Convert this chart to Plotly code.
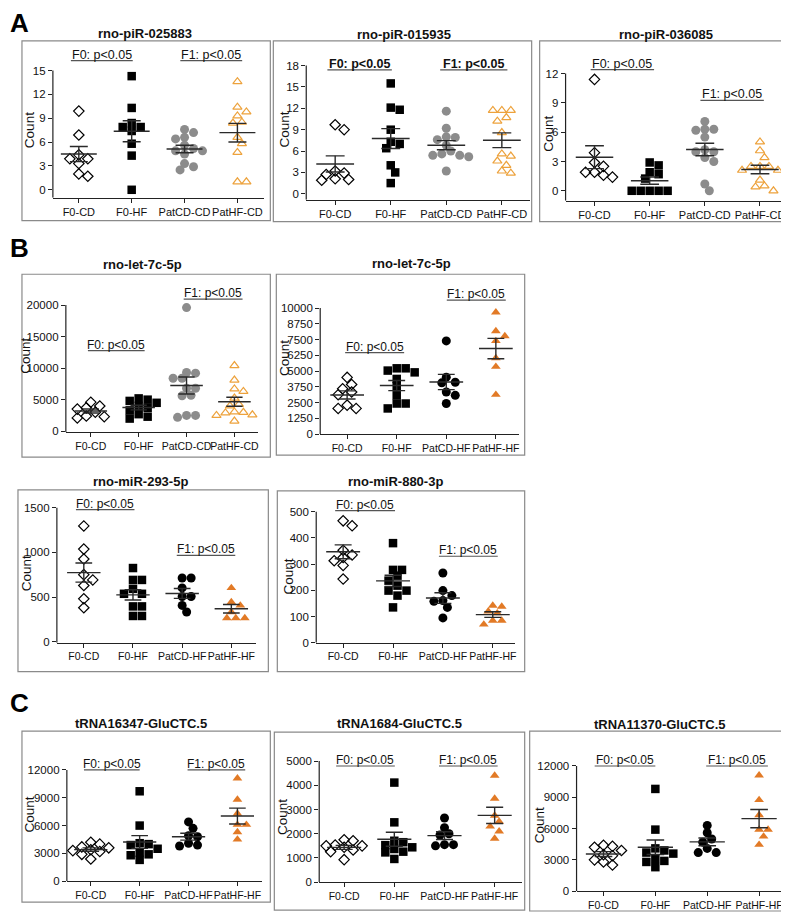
import numpy as np
import plotly.graph_objects as go

W, H = 789, 912

# ---------------- data ----------------
LABELS_CD = ["F0-CD", "F0-HF", "PatCD-CD", "PatHF-CD"]
LABELS_HF = ["F0-CD", "F0-HF", "PatCD-HF", "PatHF-HF"]

TITLES = ["rno-piR-025883", "rno-piR-015935", "rno-piR-036085",
          "rno-let-7c-5p", "rno-let-7c-5p", "rno-miR-293-5p", "rno-miR-880-3p",
          "tRNA16347-GluCTC.5", "tRNA1684-GluCTC.5", "tRNA11370-GluCTC.5"]

# A: rno-piR-025883
a1_f0cd = [9.9, 6.9, 4.4, 3.9, 3.9, 3.3, 1.7, 2.0]
a1_f0hf = [14.3, 10.3, 8.4, 7.9, 7.9, 7.4, 5.8, 4.3, 0.0]
a1_patcd = [7.6, 7.2, 6.6, 6.4, 5.6, 5.2, 4.9, 4.9, 4.5, 3.3, 2.9, 2.5]
a1_pathf = [13.6, 10.4, 9.8, 9.3, 8.5, 8.4, 6.6, 5.8, 4.7, 1.0, 1.0]
# A: rno-piR-015935
a2_f0cd = [9.7, 9.0, 3.2, 2.9, 2.7, 2.1, 1.9, 2.0]
a2_f0hf = [15.5, 12.1, 11.8, 9.0, 7.3, 7.0, 6.4, 4.0, 3.0, 1.5]
a2_patcd = [11.6, 9.2, 8.0, 7.9, 7.6, 6.8, 6.0, 5.6, 5.4, 5.4, 5.2, 3.2]
a2_pathf = [11.7, 11.7, 11.7, 10.7, 10.2, 8.6, 5.6, 5.3, 4.6, 4.0, 3.2, 2.9]
# A: rno-piR-036085
a3_f0cd = [11.4, 3.9, 2.9, 2.5, 1.9, 1.9, 1.6, 1.4]
a3_f0hf = [2.9, 2.6, 1.9, 1.7, 1.25, 0.0, 0.0, 0.0, 0.0, 0.0]
a3_patcd = [7.1, 6.3, 6.3, 6.2, 5.5, 4.2, 4.0, 4.0, 3.4, 3.0, 0.7, 0.0]
a3_pathf = [5.0, 4.1, 3.4, 2.5, 2.5, 2.5, 2.1, 2.1, 1.1, 0.5, 0.4, 0.0]
# B: rno-let-7c-5p (CD offspring)
b1_f0cd = [4600, 4000, 3700, 3500, 3000, 2400, 2100, 2300]
b1_f0hf = [5200, 5000, 4800, 4500, 4000, 3700, 3300, 2700, 2300, 2000]
b1_patcd = [19600, 9200, 9300, 8400, 8400, 6800, 6800, 5700, 5600, 2500, 2500, 2200]
b1_pathf = [10400, 8100, 6700, 6300, 5250, 4250, 4000, 3050, 3000, 2900, 2600, 2500, 1600]
# B: rno-let-7c-5p (HF offspring)
b2_f0cd = [4500, 3940, 3600, 3340, 3130, 2300, 2040, 2040]
b2_f0hf = [5220, 5220, 5040, 4900, 4380, 3810, 3080, 2430, 2430, 2040]
b2_patcd = [7390, 4520, 4120, 4070, 3340, 3080, 2430]
b2_pathf = [9660, 8170, 7780, 7390, 6030, 5350, 3130]
# B: rno-miR-293-5p
b3_f0cd = [1296, 1037, 926, 751, 692, 630, 481, 381]
b3_f0hf = [825, 692, 692, 592, 537, 537, 396, 396, 289, 289]
b3_patcd = [714, 714, 603, 507, 507, 407, 333]
b3_pathf = [603, 444, 407, 333, 266, 266, 266]
# B: rno-miR-880-3p
b4_f0cd = [465, 446, 353, 335, 325, 313, 295, 243]
b4_f0hf = [380, 278, 278, 256, 237, 218, 199, 199, 180, 135]
b4_patcd = [266, 199, 180, 161, 158, 135, 95]
b4_pathf = [142, 138, 120, 113, 85, 85, 70]
# C: tRNA16347-GluCTC.5
c1_f0cd = [4200, 4000, 3700, 3600, 3400, 3300, 3200, 2900, 2400]
c1_f0hf = [9700, 6000, 4100, 4000, 3900, 3500, 3100, 2900, 2800, 2300]
c1_patcd = [6400, 5700, 4900, 4800, 4100, 3900, 3800]
c1_pathf = [11100, 8800, 7300, 6100, 6100, 5300, 4500]
# C: tRNA1684-GluCTC.5
c2_f0cd = [1750, 1710, 1530, 1500, 1500, 1440, 1330, 1260, 930]
c2_f0hf = [4110, 2470, 1710, 1650, 1530, 1440, 1370, 1260, 1230, 960]
c2_patcd = [2650, 2250, 2000, 1950, 1550, 1550, 1500]
c2_pathf = [4400, 3450, 2750, 2500, 2300, 2100, 1800]
# C: tRNA11370-GluCTC.5
c3_f0cd = [4400, 4300, 4200, 3900, 3500, 3400, 3000, 2800, 2500]
c3_f0hf = [9800, 5900, 4100, 3900, 3700, 3600, 3100, 2900, 2800, 2300]
c3_patcd = [6300, 5600, 5000, 4700, 4100, 3700, 3700]
c3_pathf = [11100, 8750, 7300, 5900, 5900, 5250, 4450]

# y tick values per panel
YT_A1 = [0, 3, 6, 9, 12, 15]
YT_A2 = [0, 3, 6, 9, 12, 15, 18]
YT_A3 = [0, 3, 6, 9, 12]
YT_B1 = [0, 5000, 10000, 15000, 20000]
YT_B2 = [0, 1250, 2500, 3750, 5000, 6250, 7500, 8750, 10000]
YT_B3 = [0, 500, 1000, 1500]
YT_B4 = [0, 100, 200, 300, 400, 500]
YT_C1 = [0, 3000, 6000, 9000, 12000]
YT_C2 = [0, 1000, 2000, 3000, 4000, 5000]
YT_C3 = [0, 3000, 6000, 9000, 12000]

SIG_TEXT = ["F0: p<0.05", "F1: p<0.05"]

# ---------------- layout / style config ----------------
GRAY = "#8C8C8C"
LORANGE = "#EDA23C"
ORANGE = "#E27A26"
STYLE_OPEN = [dict(symbol="diamond-open", color="black", size=8),
              dict(symbol="square", color="black", size=8.5),
              dict(symbol="circle", color=GRAY, size=9),
              dict(symbol="triangle-up-open", color=LORANGE, size=8)]
STYLE_FILL = [dict(symbol="diamond-open", color="black", size=8),
              dict(symbol="square", color="black", size=8.5),
              dict(symbol="circle", color="black", size=9),
              dict(symbol="triangle-up", color=ORANGE, size=8.5)]

panels = [
    dict(groups=[a1_f0cd, a1_f0hf, a1_patcd, a1_pathf], labels=LABELS_CD, yt=YT_A1, style=STYLE_OPEN,
         box=(14, 33, 263, 214), axl=45, axr=257, cat0=71, sp=53, xax=191, zero=183, top=63,
         title=(137, 26), count=(21, 123), sig=[(-0.15, 1.02, 16.25), (1.92, 3.09, 16.25)], bold=False, big=True),
    dict(groups=[a2_f0cd, a2_f0hf, a2_patcd, a2_pathf], labels=LABELS_CD, yt=YT_A2, style=STYLE_OPEN,
         box=(266, 33, 525, 215), axl=299, axr=523, cat0=328, sp=55.7, xax=193, zero=187, top=58,
         title=(397, 27), count=(277, 122), sig=[(-0.14, 1.02, 17.4), (1.89, 3.1, 17.4)], bold=True, big=True),
    dict(groups=[a3_f0cd, a3_f0hf, a3_patcd, a3_pathf], labels=LABELS_CD, yt=YT_A3, style=STYLE_OPEN,
         box=(533, 33, 785, 215), axl=559, axr=781, cat0=588, sp=55.3, xax=194, zero=184, top=66,
         title=(660, 27), count=(542, 127), sig=[(-0.07, 1.08, 12.4), (1.92, 3.07, 9.26)], bold=False, big=True),
    dict(groups=[b1_f0cd, b1_f0hf, b1_patcd, b1_pathf], labels=LABELS_CD, yt=YT_B1, style=STYLE_OPEN,
         box=(14, 268, 263, 452), axl=58, axr=251, cat0=83, sp=48, xax=427, zero=426, top=299,
         title=(135, 258), count=(18, 350), sig=[(-0.06, 1.125, 12760), (1.94, 3.17, 20950)], bold=False, big=False),
    dict(groups=[b2_f0cd, b2_f0hf, b2_patcd, b2_pathf], labels=LABELS_HF, yt=YT_B2, style=STYLE_FILL,
         box=(269, 268, 518, 450), axl=313, axr=512, cat0=340, sp=49.7, xax=429, zero=429, top=302,
         title=(405, 257), count=(277, 352), sig=[(-0.04, 1.15, 6460), (2.01, 3.2, 10630)], bold=False, big=False),
    dict(groups=[b3_f0cd, b3_f0hf, b3_patcd, b3_pathf], labels=LABELS_HF, yt=YT_B3, style=STYLE_FILL,
         box=(10, 485, 261, 668), axl=49, axr=249, cat0=76, sp=49.3, xax=639, zero=638, top=503,
         title=(133, 477), count=(18, 569), sig=[(-0.16, 1.03, 1478), (1.89, 3.08, 967)], bold=False, big=False),
    dict(groups=[b4_f0cd, b4_f0hf, b4_patcd, b4_pathf], labels=LABELS_HF, yt=YT_B4, style=STYLE_FILL,
         box=(270, 486, 518, 668), axl=309, axr=508, cat0=336, sp=50, xax=639, zero=639, top=507,
         title=(388, 477), count=(281, 572), sig=[(-0.16, 1.04, 504), (1.92, 3.1, 330)], bold=False, big=False),
    dict(groups=[c1_f0cd, c1_f0hf, c1_patcd, c1_pathf], labels=LABELS_HF, yt=YT_C1, style=STYLE_FILL,
         box=(14, 728, 263, 900), axl=59, axr=255, cat0=83, sp=49, xax=879, zero=879, top=767,
         title=(133, 720), count=(22, 812), sig=[(-0.14, 1.0, 12000), (1.98, 3.16, 12000)], bold=False, big=False),
    dict(groups=[c2_f0cd, c2_f0hf, c2_patcd, c2_pathf], labels=LABELS_HF, yt=YT_C2, style=STYLE_FILL,
         box=(267, 729, 518, 908), axl=312, axr=515, cat0=337, sp=50.3, xax=880, zero=880, top=758,
         title=(392, 720), count=(275, 814), sig=[(-0.16, 1.01, 4795), (1.89, 3.06, 4795)], bold=False, big=False),
    dict(groups=[c3_f0cd, c3_f0hf, c3_patcd, c3_pathf], labels=LABELS_HF, yt=YT_C3, style=STYLE_FILL,
         box=(523, 728, 785, 909), axl=570, axr=780, cat0=597, sp=52, xax=889, zero=889, top=763,
         title=(653, 721), count=(533, 823), sig=[(-0.17, 1.0, 12000), (1.98, 3.17, 12000)], bold=False, big=False),
]

LETTERS = [("A", 12, 15), ("B", 12, 242), ("C", 12, 700)]
FONT = "Liberation Sans, Arial, sans-serif"


def swarm(vals, center, sp, s, d=9.0, tol=0.8):
    """Simple beeswarm: offsets (in category units) so markers barely overlap."""
    vals = np.asarray(vals, dtype=float)
    order = np.argsort(-vals, kind="stable")
    cands = [0.0]
    for m in range(1, 16):
        cands += [m * 0.5, -m * 0.5]
    placed = []
    xs = np.zeros(len(vals))
    for idx in order:
        ypx = vals[idx] * s
        for c in cands:
            xpx = c * d
            if all((xpx - px) ** 2 + (ypx - py) ** 2 >= (d * tol) ** 2 for px, py in placed):
                break
        placed.append((xpx, ypx))
        xs[idx] = center + xpx / sp
    return xs


fig = go.Figure()
shapes, annotations = [], []
layout_axes = {}

for k, p in enumerate(panels):
    i = k + 1
    xa = "x" if i == 1 else f"x{i}"
    ya = "y" if i == 1 else f"y{i}"
    s = (p["zero"] - p["top"]) / p["yt"][-1]  # px per data unit
    dom_top_px = p["box"][1] + 3
    y_lo = (p["zero"] - p["xax"]) / s
    y_hi = (p["zero"] - dom_top_px) / s
    x_lo = (p["axl"] - p["cat0"]) / p["sp"]
    x_hi = (p["axr"] - p["cat0"]) / p["sp"]

    for g, vals in enumerate(p["groups"]):
        st = p["style"][g]
        xs = swarm(vals, g, p["sp"], s)
        open_sym = st["symbol"].endswith("open")
        fig.add_trace(go.Scatter(
            x=xs, y=vals, mode="markers", xaxis=xa, yaxis=ya, showlegend=False,
            marker=dict(symbol=st["symbol"], size=st["size"], color=st["color"],
                        line=dict(width=1.2 if open_sym else 0, color=st["color"])),
            cliponaxis=False))
        v = np.asarray(vals, dtype=float)
        m = v.mean()
        se = v.std(ddof=1) / np.sqrt(len(v))
        mx = [g - 0.34, g + 0.34, None, g - 0.17, g + 0.17, None, g, g, None, g - 0.17, g + 0.17]
        my = [m, m, None, m + se, m + se, None, m + se, m - se, None, m - se, m - se]
        fig.add_trace(go.Scatter(x=mx, y=my, mode="lines", xaxis=xa, yaxis=ya, showlegend=False,
                                 line=dict(color="#2a2a2a", width=1.4), hoverinfo="skip"))

    # category label size chosen so that neighbouring labels just fit the category spacing
    cat_size = 11 if p["sp"] > 52 else 10.5
    layout_axes["xaxis" if i == 1 else f"xaxis{i}"] = dict(
        domain=[p["axl"] / W, p["axr"] / W], range=[x_lo, x_hi], anchor=ya,
        tickmode="array", tickvals=[0, 1, 2, 3], ticktext=p["labels"], tickangle=0,
        showline=True, linecolor="#222", linewidth=1.2, ticks="outside", ticklen=4,
        tickcolor="#222", tickwidth=1.2, showgrid=False, zeroline=False,
        tickfont=dict(size=cat_size, color="#111", family=FONT), fixedrange=True)
    layout_axes["yaxis" if i == 1 else f"yaxis{i}"] = dict(
        domain=[1 - p["xax"] / H, 1 - dom_top_px / H], range=[y_lo, y_hi], anchor=xa,
        tickmode="array", tickvals=p["yt"], ticktext=[str(t) for t in p["yt"]],
        showline=False, ticks="outside", ticklen=4, tickcolor="#222", tickwidth=1.2,
        showgrid=False, zeroline=False,
        tickfont=dict(size=11.5, color="#111", family=FONT), fixedrange=True)

    # panel frame
    bx0, by0, bx1, by1 = p["box"]
    shapes.append(dict(type="rect", xref="paper", yref="paper",
                       x0=bx0 / W, x1=bx1 / W, y0=1 - by1 / H, y1=1 - by0 / H,
                       line=dict(color="#8a8a8a", width=1.2), fillcolor="rgba(0,0,0,0)", layer="below"))
    # y axis line (from bottom up to the top tick)
    shapes.append(dict(type="line", xref=f"{xa} domain", yref=ya, x0=0, x1=0,
                       y0=y_lo, y1=p["yt"][-1], line=dict(color="#222", width=1.2)))
    # significance bars
    for (sx0, sx1, sy), txt in zip(p["sig"], SIG_TEXT):
        shapes.append(dict(type="line", xref=xa, yref=ya, x0=sx0, x1=sx1, y0=sy, y1=sy,
                           line=dict(color="#555", width=1.2)))
        t = f"<b>{txt}</b>" if p["bold"] else txt
        annotations.append(dict(xref=xa, yref=ya, x=(sx0 + sx1) / 2, y=sy, yanchor="bottom",
                                text=t, showarrow=False, yshift=-3,
                                font=dict(size=12.5 if p["big"] else 12, color="#111", family=FONT)))
    # title
    annotations.append(dict(xref="paper", yref="paper", x=p["title"][0] / W, y=1 - p["title"][1] / H,
                            text=f"<b>{TITLES[k]}</b>", showarrow=False, xanchor="center", yanchor="middle",
                            font=dict(size=13, color="#111", family=FONT)))
    # y axis title
    annotations.append(dict(xref="paper", yref="paper", x=p["count"][0] / W, y=1 - p["count"][1] / H,
                            text="Count", textangle=-90, showarrow=False, xanchor="center", yanchor="middle",
                            font=dict(size=13.5, color="#111", family=FONT)))

for L, lx, ly in LETTERS:
    annotations.append(dict(xref="paper", yref="paper", x=lx / W, y=1 - ly / H, text=f"<b>{L}</b>",
                            showarrow=False, xanchor="center", yanchor="middle",
                            font=dict(size=26, color="black", family=FONT)))

fig.update_layout(width=W, height=H, margin=dict(l=0, r=0, t=0, b=0),
                  paper_bgcolor="white", plot_bgcolor="white", showlegend=False,
                  shapes=shapes, annotations=annotations, **layout_axes)

fig.write_html("out.html")
